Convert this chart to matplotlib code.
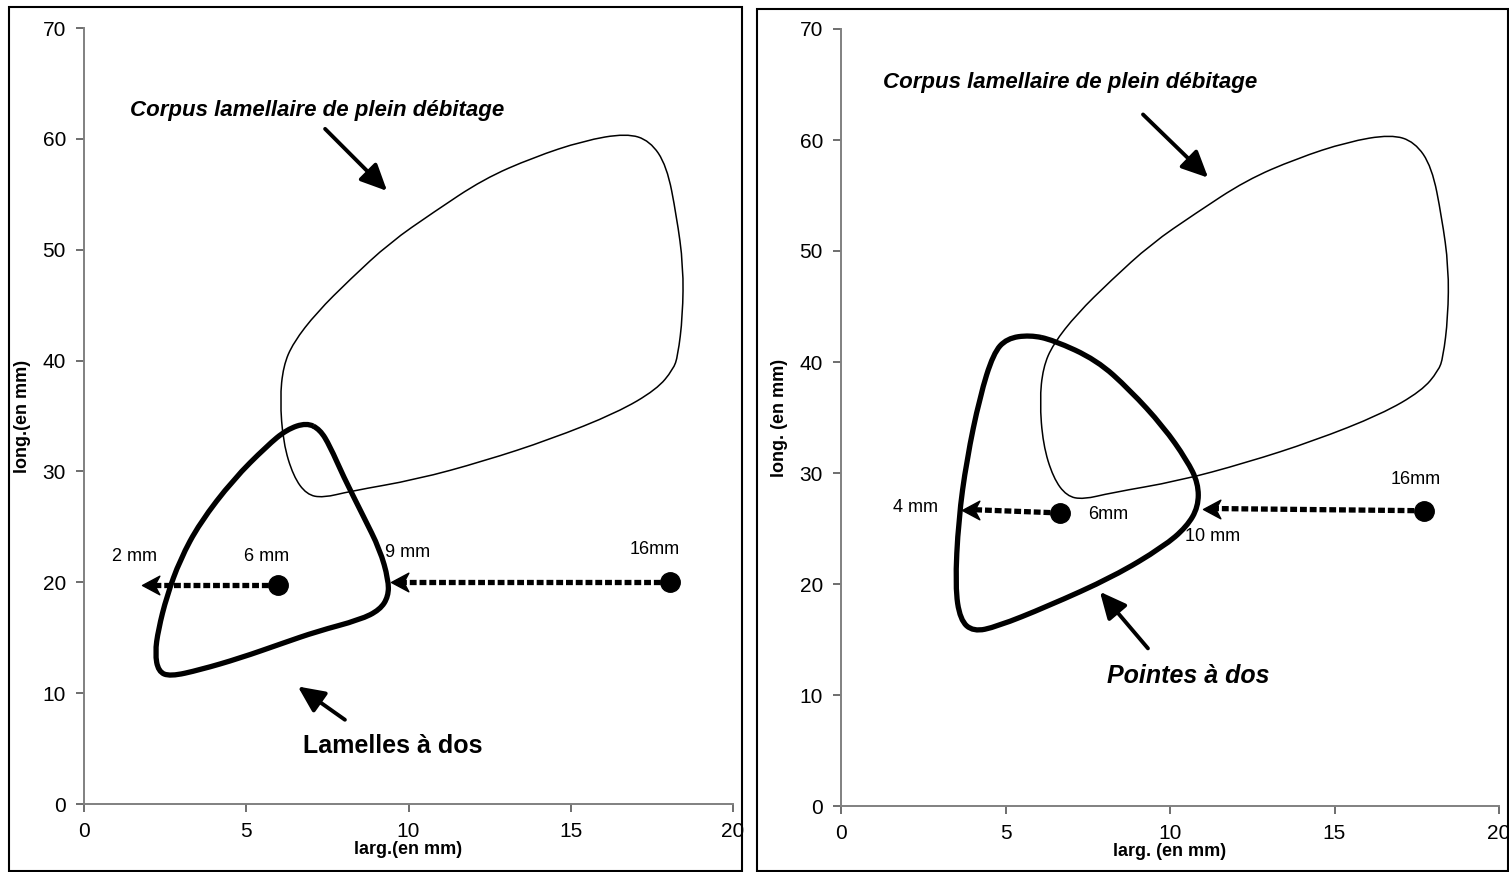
import matplotlib.pyplot as plt
from matplotlib.patches import Rectangle, PathPatch
from matplotlib.path import Path

plt.rcParams['font.family'] = ['Liberation Sans', 'DejaVu Sans']

# outline of the full blade production corpus (larg., long. in mm)
corpus_x = [16.72, 17.44, 17.96, 18.26, 18.47, 18.45, 18.30, 18.16, 17.65,
            16.42, 14.36, 12.31, 10.25, 8.20, 7.37, 6.86, 6.45, 6.14, 6.04,
            6.14, 6.45, 7.17, 8.20, 9.43, 10.76, 12.31, 13.85, 15.39]
corpus_y = [60.50, 59.83, 57.57, 53.05, 48.54, 44.02, 40.41, 39.21, 37.40,
            35.29, 32.88, 30.92, 29.27, 28.21, 27.62, 27.91, 29.57, 32.58,
            36.50, 39.50, 41.62, 44.33, 47.33, 50.65, 53.36, 56.37, 58.33,
            59.83]

# backed bladelets
lamelles_x = [6.86, 7.27, 7.58, 7.99, 8.61, 9.12, 9.38, 9.38, 9.12, 8.51,
              7.17, 6.14, 4.81, 3.57, 2.65, 2.29, 2.19, 2.29, 2.55, 2.96,
              3.57, 4.60, 5.63, 6.25]
lamelles_y = [34.39, 33.79, 32.28, 29.57, 25.95, 22.94, 20.24, 18.73, 17.52,
              16.62, 15.56, 14.52, 13.16, 12.10, 11.50, 11.95, 13.61, 15.72,
              18.73, 22.04, 25.36, 29.27, 32.28, 33.79]

# backed points
pointes_x = [5.74, 6.45, 7.77, 8.78, 9.80, 10.51, 10.86, 10.86, 10.51, 9.80,
             8.28, 6.25, 4.73, 4.02, 3.62, 3.47, 3.57, 3.82, 4.22, 4.63, 5.04]
pointes_y = [42.43, 41.98, 40.18, 37.48, 34.17, 31.17, 29.07, 26.96, 25.16,
             23.36, 20.66, 17.95, 16.15, 15.70, 16.76, 19.76, 25.77, 31.17,
             36.87, 40.78, 42.13]

# width ranges: dot -> arrow tip
left_ranges = [((5.98, 19.8), (1.79, 19.8)), ((18.06, 20.0), (9.45, 20.0))]
right_ranges = [((6.66, 26.4), (3.68, 26.7)), ((17.72, 26.6), (11.0, 26.8))]

left_labels = ["2 mm", "6 mm", "9 mm", "16mm"]
left_label_pos = [(1.57, 22.3), (5.64, 22.3), (9.98, 22.7), (17.6, 23.0)]
right_labels = ["4 mm", "6mm", "10 mm", "16mm"]
right_label_pos = [(2.25, 26.9), (8.12, 26.3), (11.28, 24.3), (17.48, 29.4)]

xticks = [0, 5, 10, 15, 20]
yticks = [0, 10, 20, 30, 40, 50, 60, 70]

# left-pointing stealth arrow head, tip at the origin
head = Path([(0, 0), (1.4, 0.75), (1.0, 0), (1.4, -0.75), (0, 0)],
            [Path.MOVETO, Path.LINETO, Path.LINETO, Path.LINETO, Path.CLOSEPOLY])


def outline(ax, xs, ys, lw):
    """Closed smooth outline: the points act as quadratic control points."""
    n = len(xs)
    pts = list(zip(xs, ys))
    mid = [((pts[i][0] + pts[(i + 1) % n][0]) / 2,
            (pts[i][1] + pts[(i + 1) % n][1]) / 2) for i in range(n)]
    verts = [mid[0]]
    codes = [Path.MOVETO]
    for i in range(1, n + 1):
        verts += [pts[i % n], mid[i % n]]
        codes += [Path.CURVE3, Path.CURVE3]
    ax.add_patch(PathPatch(Path(verts, codes), fill=False, edgecolor='black',
                           lw=lw, joinstyle='round'))


def setup_axes(ax, xlabel, ylabel):
    ax.set_xlim(0, 20)
    ax.set_ylim(0, 70)
    ax.set_xticks(xticks)
    ax.set_yticks(yticks)
    for s in ['top', 'right']:
        ax.spines[s].set_visible(False)
    for s in ['left', 'bottom']:
        ax.spines[s].set_color('#808080')
        ax.spines[s].set_linewidth(1.4)
    ax.tick_params(direction='out', length=6, width=1.2, color='#555555',
                   labelsize=15, pad=7)
    ax.set_xlabel(xlabel, fontsize=13, fontweight='bold', labelpad=0)
    ax.set_ylabel(ylabel, fontsize=13, fontweight='bold', labelpad=8)


def draw_ranges(ax, ranges):
    for (x0, y0), (x1, y1) in ranges:
        ax.plot([x0, x1 + 0.3], [y0, y1], color='black', lw=3.8,
                linestyle=(0, (1.3, 0.55)), solid_capstyle='butt')
        ax.plot(x0, y0, 'o', color='black', markersize=14)
        ax.plot(x1, y1, marker=head, color='black', markersize=25,
                linestyle='none')


def arrow(ax, start, tip):
    ax.annotate('', xy=tip, xytext=start,
                arrowprops=dict(arrowstyle='-|>,head_length=1.6,head_width=0.75',
                                color='black', lw=2.8, shrinkA=0, shrinkB=0))


fig = plt.figure(figsize=(15.09, 8.72), dpi=100)

# panel frames
fig.patches.append(Rectangle((9 / 1509, 1 / 872), 733 / 1509, 864 / 872,
                             transform=fig.transFigure, fill=False,
                             edgecolor='black', lw=1.5))
fig.patches.append(Rectangle((757 / 1509, 1 / 872), 751 / 1509, 862 / 872,
                             transform=fig.transFigure, fill=False,
                             edgecolor='black', lw=1.5))

ax1 = fig.add_axes([84 / 1509, 68 / 872, 649 / 1509, 776 / 872])
ax2 = fig.add_axes([841 / 1509, 66 / 872, 658 / 1509, 777 / 872])

# left: backed bladelets
setup_axes(ax1, 'larg.(en mm)', 'long.(en mm)')
outline(ax1, corpus_x, corpus_y, 1.1)
outline(ax1, lamelles_x, lamelles_y, 3.8)
draw_ranges(ax1, left_ranges)
for t, (x, y) in zip(left_labels, left_label_pos):
    ax1.text(x, y, t, fontsize=13, ha='center', va='center')
ax1.text(7.18, 62.6, 'Corpus lamellaire de plein débitage', fontsize=16,
         fontweight='bold', style='italic', ha='center', va='center')
arrow(ax1, (7.43, 60.9), (9.34, 55.3))
ax1.text(9.52, 5.2, 'Lamelles à dos', fontsize=18, fontweight='bold',
         ha='center', va='center')
arrow(ax1, (8.04, 7.6), (6.59, 10.6))

# right: backed points
setup_axes(ax2, 'larg. (en mm)', 'long. (en mm)')
outline(ax2, corpus_x, corpus_y, 1.1)
outline(ax2, pointes_x, pointes_y, 3.8)
draw_ranges(ax2, right_ranges)
for t, (x, y) in zip(right_labels, right_label_pos):
    ax2.text(x, y, t, fontsize=13, ha='center', va='center')
ax2.text(6.96, 65.2, 'Corpus lamellaire de plein débitage', fontsize=16,
         fontweight='bold', style='italic', ha='center', va='center')
arrow(ax2, (9.18, 62.3), (11.16, 56.6))
ax2.text(10.55, 11.7, 'Pointes à dos', fontsize=18, fontweight='bold',
         style='italic', ha='center', va='center')
arrow(ax2, (9.33, 14.2), (7.87, 19.3))

fig.savefig('out.png', dpi=100)
